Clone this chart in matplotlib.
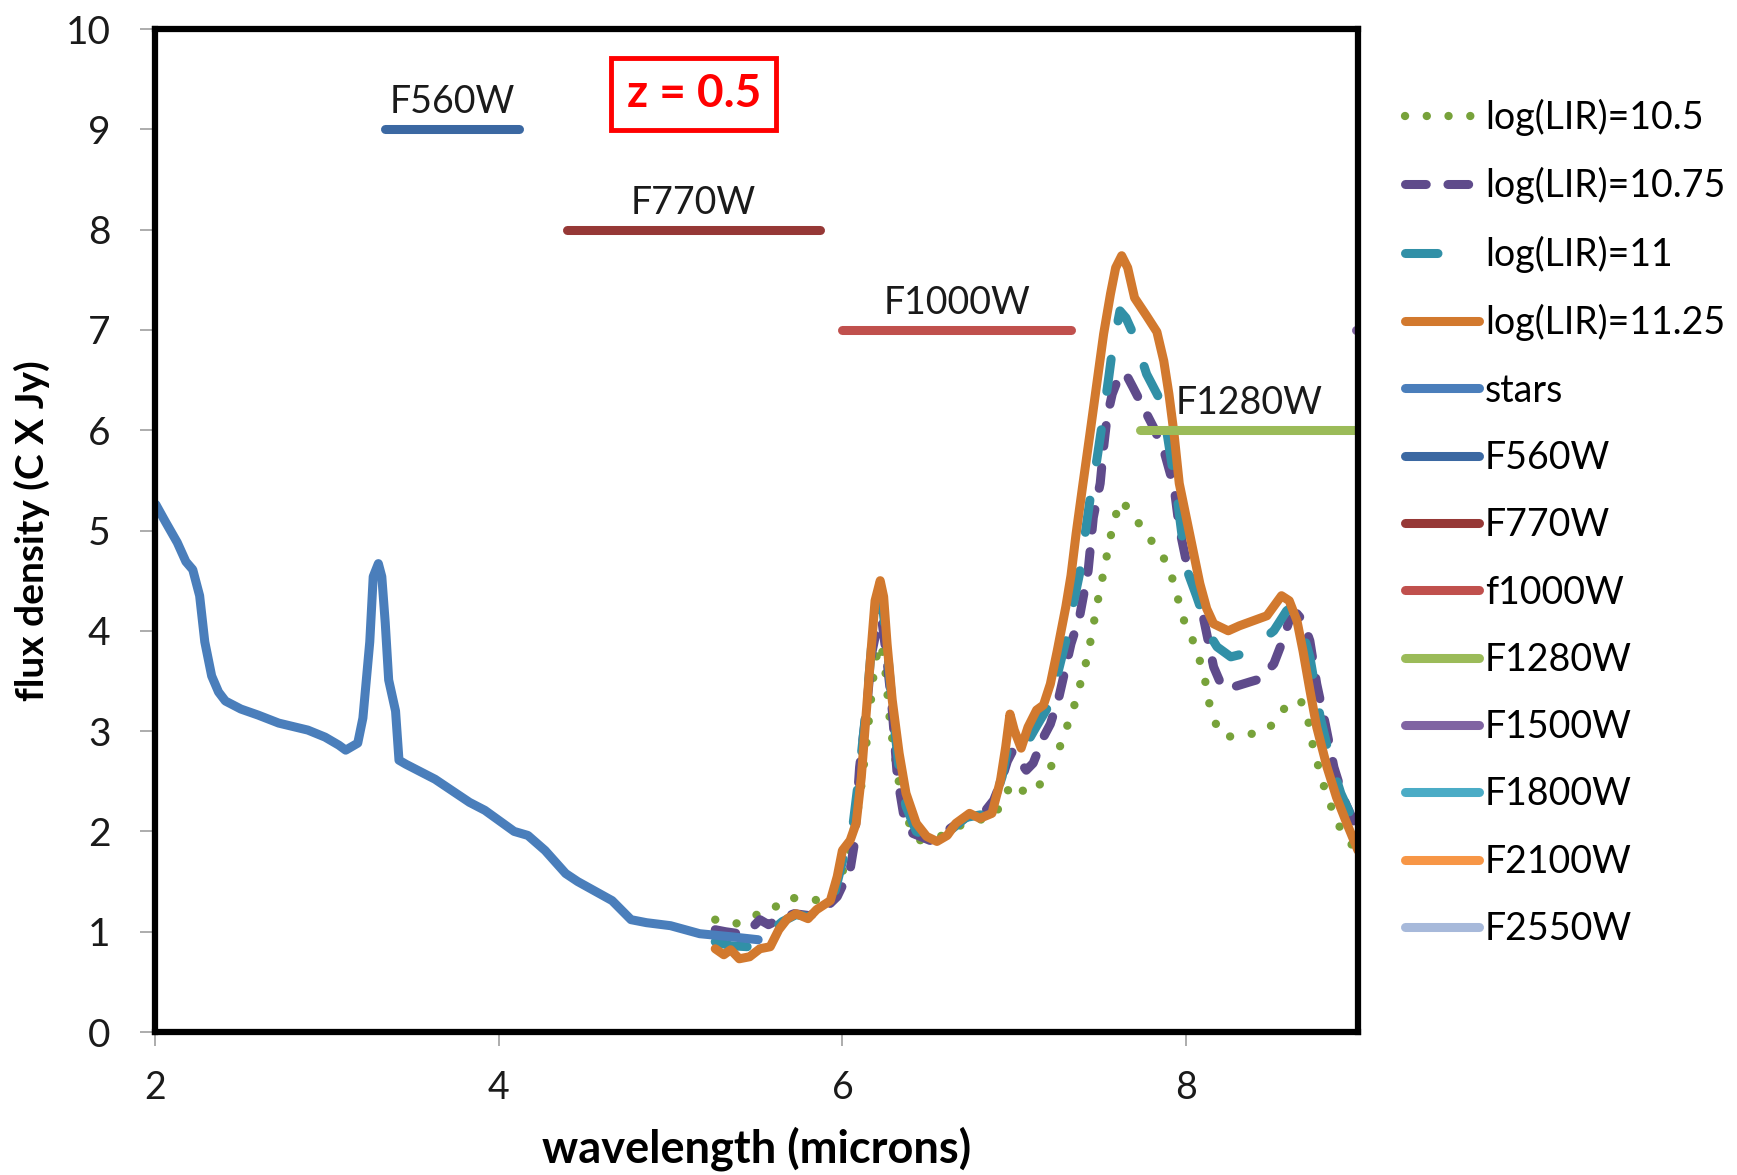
import matplotlib
matplotlib.use('Agg')
import matplotlib.pyplot as plt
from matplotlib.lines import Line2D

plt.rcParams['font.family'] = ['Lato', 'DejaVu Sans']

# stellar continuum
stars_x = [2.005, 2.06, 2.13, 2.18, 2.22, 2.26, 2.29, 2.33, 2.37, 2.41, 2.50, 2.60, 2.72,
           2.89, 2.99, 3.07, 3.11, 3.18, 3.21, 3.25, 3.27, 3.30, 3.32, 3.34, 3.36, 3.40,
           3.42, 3.46, 3.63, 3.83, 3.92, 4.09, 4.17, 4.27, 4.39, 4.46, 4.66, 4.77, 4.86,
           5.00, 5.17, 5.35, 5.51]
stars_y = [5.26, 5.09, 4.88, 4.69, 4.61, 4.35, 3.89, 3.55, 3.39, 3.30, 3.22, 3.16, 3.08,
           3.01, 2.94, 2.86, 2.81, 2.88, 3.13, 3.89, 4.54, 4.67, 4.54, 4.08, 3.51, 3.20,
           2.71, 2.67, 2.52, 2.29, 2.21, 2.00, 1.96, 1.81, 1.58, 1.50, 1.31, 1.12, 1.09,
           1.06, 0.98, 0.95, 0.92]

# PAH templates, log(LIR) = 10.5
lir105_x = [5.26, 5.38, 5.48, 5.58, 5.67, 5.77, 5.88, 5.95, 6.03, 6.10, 6.14, 6.18, 6.21,
            6.23, 6.25, 6.28, 6.32, 6.36, 6.44, 6.55, 6.66, 6.76, 6.87, 6.94, 6.98, 7.04,
            7.11, 7.18, 7.24, 7.28, 7.32, 7.36, 7.39, 7.42, 7.45, 7.48, 7.51, 7.55, 7.58,
            7.62, 7.69, 7.75, 7.83, 7.89, 7.93, 7.96, 7.99, 8.04, 8.08, 8.11, 8.13, 8.16,
            8.22, 8.33, 8.45, 8.54, 8.59, 8.67, 8.71, 8.73, 8.76, 8.79, 8.83, 8.87, 8.92, 9.0]
lir105_y = [1.12, 1.08, 1.16, 1.20, 1.34, 1.33, 1.31, 1.41, 1.71, 2.31, 2.88, 3.54, 3.87,
            3.82, 3.60, 3.04, 2.58, 2.18, 1.91, 1.93, 2.04, 2.11, 2.13, 2.31, 2.48, 2.41,
            2.38, 2.54, 2.73, 2.91, 3.11, 3.31, 3.51, 3.70, 3.95, 4.25, 4.50, 4.85, 5.10,
            5.30, 5.17, 5.00, 4.83, 4.67, 4.47, 4.27, 4.09, 3.90, 3.70, 3.51, 3.31, 3.11,
            2.94, 2.96, 2.99, 3.12, 3.29, 3.29, 3.11, 2.91, 2.71, 2.51, 2.31, 2.13, 1.95, 1.80]

# log(LIR) = 10.75
lir1075_x = [5.26, 5.32, 5.40, 5.48, 5.52, 5.57, 5.64, 5.72, 5.81, 5.91, 5.97, 6.045, 6.07,
             6.10, 6.14, 6.17, 6.21, 6.23, 6.26, 6.29, 6.32, 6.355, 6.41, 6.51, 6.61, 6.72,
             6.82, 6.88, 6.92, 6.96, 6.99, 7.04, 7.07, 7.11, 7.17, 7.21, 7.26, 7.30, 7.33,
             7.38, 7.43, 7.46, 7.50, 7.52, 7.54, 7.57, 7.615, 7.65, 7.69, 7.75, 7.81, 7.87,
             7.93, 7.96, 8.00, 8.04, 8.08, 8.12, 8.16, 8.21, 8.275, 8.37, 8.43, 8.51, 8.555,
             8.60, 8.645, 8.68, 8.72, 8.76, 8.81, 8.86, 8.92, 8.98, 9.0]
lir1075_y = [1.02, 1.00, 0.98, 1.05, 1.12, 1.07, 1.13, 1.18, 1.16, 1.25, 1.35, 1.62, 1.88,
             2.64, 3.21, 3.77, 4.10, 4.10, 3.70, 3.21, 2.54, 2.18, 1.98, 1.91, 2.01, 2.14,
             2.18, 2.31, 2.48, 2.70, 2.80, 2.68, 2.61, 2.68, 2.94, 3.07, 3.34, 3.64, 3.87,
             4.14, 4.60, 5.13, 5.47, 5.83, 6.13, 6.36, 6.56, 6.56, 6.43, 6.23, 6.03, 5.80,
             5.43, 5.03, 4.70, 4.50, 4.30, 3.97, 3.64, 3.44, 3.44, 3.49, 3.52, 3.67, 3.87,
             4.10, 4.17, 4.10, 3.90, 3.47, 3.07, 2.64, 2.31, 2.08, 2.00]

# log(LIR) = 11
lir11_x = [5.26, 5.35, 5.45, 5.52, 5.58, 5.65, 5.73, 5.80, 5.88, 5.95, 6.00, 6.05, 6.10,
           6.14, 6.17, 6.21, 6.23, 6.26, 6.29, 6.33, 6.37, 6.43, 6.52, 6.62, 6.72, 6.82,
           6.88, 6.93, 6.97, 7.03, 7.08, 7.13, 7.21, 7.30, 7.34, 7.38, 7.44, 7.48, 7.52,
           7.55, 7.57, 7.615, 7.65, 7.70, 7.77, 7.84, 7.89, 7.95, 8.00, 8.06, 8.10, 8.14,
           8.18, 8.26, 8.33, 8.42, 8.51, 8.585, 8.61, 8.66, 8.72, 8.78, 8.84, 8.90, 8.98, 9.0]
lir11_y = [0.90, 0.86, 0.85, 0.92, 1.00, 1.10, 1.17, 1.15, 1.22, 1.35, 1.70, 1.90, 2.60,
           3.25, 3.85, 4.25, 4.30, 3.85, 3.25, 2.62, 2.25, 2.00, 1.92, 2.00, 2.14, 2.17,
           2.28, 2.55, 2.90, 2.83, 2.90, 3.05, 3.28, 3.90, 4.24, 4.57, 5.30, 5.70, 6.16,
           6.53, 6.79, 7.19, 7.12, 6.93, 6.56, 6.33, 5.96, 5.30, 4.63, 4.35, 4.15, 3.95,
           3.84, 3.74, 3.77, 3.88, 4.00, 4.20, 4.23, 4.10, 3.74, 3.14, 2.71, 2.38, 2.08, 2.00]

# log(LIR) = 11.25
lir1125_x = [5.26, 5.31, 5.35, 5.40, 5.46, 5.52, 5.58, 5.63, 5.68, 5.73, 5.80, 5.85, 5.93,
             5.97, 6.00, 6.045, 6.08, 6.11, 6.14, 6.17, 6.19, 6.22, 6.24, 6.26, 6.29, 6.33,
             6.37, 6.43, 6.49, 6.55, 6.61, 6.66, 6.74, 6.80, 6.87, 6.92, 6.95, 6.975, 7.00,
             7.04, 7.08, 7.13, 7.17, 7.21, 7.25, 7.30, 7.33, 7.36, 7.40, 7.44, 7.48, 7.52,
             7.56, 7.59, 7.625, 7.66, 7.70, 7.77, 7.83, 7.87, 7.90, 7.93, 7.96, 8.02, 8.08,
             8.12, 8.16, 8.245, 8.31, 8.39, 8.47, 8.555, 8.60, 8.645, 8.68, 8.72, 8.76, 8.82,
             8.875, 8.935, 9.0]
lir1125_y = [0.83, 0.77, 0.82, 0.73, 0.75, 0.83, 0.85, 1.02, 1.13, 1.18, 1.13, 1.22, 1.31,
             1.55, 1.81, 1.91, 2.08, 2.54, 3.21, 3.87, 4.30, 4.50, 4.34, 3.87, 3.31, 2.78,
             2.38, 2.08, 1.95, 1.90, 1.96, 2.08, 2.18, 2.13, 2.18, 2.51, 2.84, 3.17, 3.01,
             2.83, 3.04, 3.21, 3.26, 3.47, 3.80, 4.24, 4.55, 4.97, 5.47, 5.96, 6.46, 6.96,
             7.36, 7.62, 7.74, 7.62, 7.32, 7.14, 6.98, 6.69, 6.36, 5.96, 5.47, 4.97, 4.47,
             4.22, 4.07, 4.00, 4.05, 4.10, 4.15, 4.35, 4.30, 4.10, 3.80, 3.41, 3.04, 2.64,
             2.34, 2.08, 1.81]

# MIRI filter bands shifted to z = 0.5 (microns)
filter_names = ['F560W', 'F770W', 'f1000W', 'F1280W', 'F1500W', 'F1800W', 'F2100W', 'F2550W']
filter_tags = ['F560W', 'F770W', 'F1000W', 'F1280W', '', '', '', '']
filter_lo = [3.34, 4.40, 6.00, 7.73, 8.99, 11.0, 12.3, 15.7]
filter_hi = [4.12, 5.87, 7.33, 9.33, 11.0, 13.0, 15.3, 18.3]
filter_level = [9, 8, 7, 6, 7, 8, 9, 8]
filter_colors = ['#3B68A2', '#963836', '#C0504D', '#9BBB59', '#8064A2', '#4BACC6',
                 '#F79646', '#A7B9DA']

x_min, x_max = 2, 9

fig = plt.figure(figsize=(17.37, 11.75), dpi=100)
ax = fig.add_axes([0.0892, 0.1217, 0.6926, 0.8536])

lw = 6.5
ax.plot(lir105_x, lir105_y, color='#77A23A', lw=6, dashes=(0.01, 2.6),
        dash_capstyle='round', label='log(LIR)=10.5')
ax.plot(lir1075_x, lir1075_y, color='#5F4B8B', lw=lw, dashes=(2.3, 2.4),
        dash_capstyle='round', label='log(LIR)=10.75')
teal, = ax.plot(lir11_x, lir11_y, color='#3190A7', lw=lw, dashes=(3.6, 4.3),
                dash_capstyle='round', label='log(LIR)=11')
ax.plot(lir1125_x, lir1125_y, color='#D2792E', lw=lw, solid_capstyle='round',
        solid_joinstyle='round', label='log(LIR)=11.25')
ax.plot(stars_x, stars_y, color='#4A7EBB', lw=lw, solid_capstyle='round',
        solid_joinstyle='round', label='stars')

for name, tag, lo, hi, lev, c in zip(filter_names, filter_tags, filter_lo, filter_hi,
                                     filter_level, filter_colors):
    ax.plot([lo, hi], [lev, lev], color=c, lw=lw, solid_capstyle='round', label=name)
    if tag:
        mid = (lo + min(hi, x_max)) / 2
        ax.text(mid, lev + 0.27, tag, ha='center', va='center', fontsize=27,
                color='#1a1a1a')

ax.text(5.135, 9.35, 'z = 0.5', ha='center', va='center', fontsize=33,
        fontweight='bold', color='#FF0000',
        bbox=dict(boxstyle='square,pad=0.33', fc='white', ec='#FF0000', lw=3.5))

ax.set_xlim(x_min, x_max)
ax.set_ylim(0, 10)
ax.set_xticks([2, 4, 6, 8])
ax.set_yticks(range(0, 11))

for sp in ax.spines.values():
    sp.set_linewidth(4.5)
    sp.set_color('black')

ax.tick_params(axis='y', direction='out', length=11, width=1.3, color='#a6a6a6',
               pad=21, labelsize=28, labelcolor='#1a1a1a')
ax.tick_params(axis='x', direction='out', length=10, width=1.3, color='#a6a6a6',
               pad=17, labelsize=27, labelcolor='#1a1a1a')

ax.set_xlabel('wavelength (microns)', fontsize=32.5, fontweight='bold')
ax.xaxis.set_label_coords(0.5, -0.094)
ax.set_ylabel('flux density (C X Jy)', fontsize=28, fontweight='bold')
ax.yaxis.set_label_coords(-0.087, 0.5)

# legend: the 11 template shows a single dash in its key
handles, labels = ax.get_legend_handles_labels()
handles[2] = Line2D([], [], color=teal.get_color(), lw=lw, dashes=(3.6, 9),
                    dash_capstyle='round')
fig.legend(handles, labels, loc='upper left', bbox_to_anchor=(0.809, 0.916),
           frameon=False, fontsize=27, handlelength=1.97, handletextpad=0.16,
           labelspacing=0.835, borderpad=0, borderaxespad=0)

fig.savefig('out.png', dpi=100)
